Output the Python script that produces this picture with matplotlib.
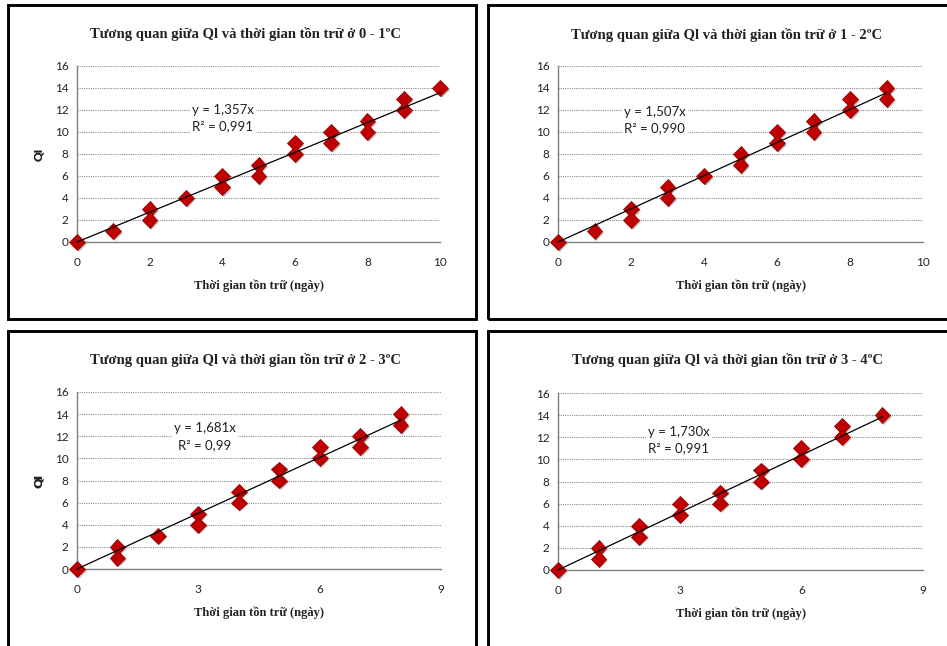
import matplotlib
matplotlib.use("Agg")
import matplotlib.pyplot as plt
import matplotlib.patheffects as pe
from matplotlib.patches import Rectangle

W, H = 947, 646
DPI = 100

# ---------------- data ----------------
titles = [
    "Tương quan giữa Ql và thời gian tồn trữ ở 0 - 1ºC",
    "Tương quan giữa Ql và thời gian tồn trữ ở 1 - 2ºC",
    "Tương quan giữa Ql và thời gian tồn trữ ở 2 - 3ºC",
    "Tương quan giữa Ql và thời gian tồn trữ ở 3 - 4ºC",
]
x_label = "Thời gian tồn trữ (ngày)"
y_label = "QI"

x1 = [0, 1, 2, 2, 3, 4, 4, 5, 5, 6, 6, 7, 7, 8, 8, 9, 9, 10]
y1 = [0, 1, 3, 2, 4, 6, 5, 7, 6, 9, 8, 10, 9, 11, 10, 13, 12, 14]

x2 = [0, 1, 2, 2, 3, 3, 4, 5, 5, 6, 6, 7, 7, 8, 8, 9, 9]
y2 = [0, 1, 3, 2, 5, 4, 6, 8, 7, 10, 9, 11, 10, 13, 12, 14, 13]

x3 = [0, 1, 1, 2, 3, 3, 4, 4, 5, 5, 6, 6, 7, 7, 8, 8]
y3 = [0, 2, 1, 3, 5, 4, 7, 6, 9, 8, 11, 10, 12, 11, 14, 13]

x4 = [0, 1, 1, 2, 2, 3, 3, 4, 4, 5, 5, 6, 6, 7, 7, 8]
y4 = [0, 2, 1, 4, 3, 6, 5, 7, 6, 9, 8, 11, 10, 13, 12, 14]

slopes = [1.357, 1.507, 1.681, 1.730]
eq_labels = ["y = 1,357x\nR² = 0,991", "y = 1,507x\nR² = 0,990",
             "y = 1,681x\nR² = 0,99", "y = 1,730x\nR² = 0,991"]
x_ticks = [[0, 2, 4, 6, 8, 10], [0, 2, 4, 6, 8, 10], [0, 3, 6, 9], [0, 3, 6, 9]]
x_max = [10, 10, 9, 9]
y_ticks = [0, 2, 4, 6, 8, 10, 12, 14, 16]

xs = [x1, x2, x3, x4]
ys = [y1, y2, y3, y4]

# ---------------- layout (pixels) ----------------
axes_px = [(77, 440, 66, 242), (558, 923, 66, 242),
           (77, 441, 392, 569), (558, 923, 393, 570)]
frames_px = [(8, 476, 5, 319), (488, 952, 5, 319),
             (8, 476, 331, 652), (488, 952, 331, 652)]
title_px = [(245, 34), (727, 35), (245, 360), (727, 360)]
eq_px = [(192, 118, 'left'), (624, 120, 'left'), (205, 437, 'center'), (648, 440, 'left')]

fig = plt.figure(figsize=(W / DPI, H / DPI), dpi=DPI)
fig.patch.set_facecolor("white")

def fx(x):
    return x / W

def fy(y):
    return 1 - y / H

sans = ["Lato", "DejaVu Sans"]
serif = ["Liberation Serif", "DejaVu Serif"]

for (fl, fr, ft, fb) in frames_px:
    fig.patches.append(Rectangle((fx(fl), fy(fb)), fx(fr - fl), (fb - ft) / H,
                                 transform=fig.transFigure, fill=False,
                                 edgecolor="black", linewidth=2.1, zorder=0))

for i in range(4):
    l, r, t, b = axes_px[i]
    ax = fig.add_axes([fx(l), fy(b), fx(r - l), (b - t) / H])
    ax.set_xlim(0, x_max[i])
    ax.set_ylim(0, 16)
    ax.set_xticks(x_ticks[i])
    ax.set_yticks(y_ticks)
    ax.tick_params(length=0, labelsize=8.5, colors="#222222", pad=6)
    for lab in ax.get_xticklabels() + ax.get_yticklabels():
        lab.set_fontfamily(sans)
    ax.tick_params(axis="x", pad=11)
    ax.grid(axis="y", linestyle=(0, (1, 1)), color="#8c8c8c", linewidth=0.8)
    ax.set_axisbelow(True)
    for s in ["top", "right"]:
        ax.spines[s].set_visible(False)
    for s in ["left", "bottom"]:
        ax.spines[s].set_color("#7f7f7f")
        ax.spines[s].set_linewidth(1.0)

    xm = max(xs[i])
    ax.plot([0, xm], [0, slopes[i] * xm], color="black", linewidth=0.9, zorder=4,
            clip_on=False)
    ax.plot(xs[i], ys[i], linestyle="none", marker="D", markersize=8,
            markerfacecolor="#C00000", markeredgecolor="#9a0000",
            markeredgewidth=0.6, zorder=3, clip_on=False,
            path_effects=[pe.SimplePatchShadow(offset=(1.2, -1.2), shadow_rgbFace="#999999", alpha=0.6),
                          pe.Normal()])

    ex, ey, ha = eq_px[i]
    fig.text(fx(ex), fy(ey), eq_labels[i], ha=ha, va="center", fontsize=9.5,
             family=sans, color="#222222", linespacing=1.5, multialignment=ha,
             bbox=dict(facecolor="white", edgecolor="none", pad=1.5))

    tx, ty = title_px[i]
    fig.text(fx(tx), fy(ty), titles[i], ha="center", va="center", fontsize=10.5,
             fontweight="bold", family=serif, color="#222222")

    fig.text(fx((l + r) / 2), fy(b + 44), x_label, ha="center", va="center",
             fontsize=9, fontweight="bold", family=serif, color="#222222")
    fig.text(fx(38), fy((t + b) / 2), y_label, ha="center", va="center",
             rotation=90, fontsize=8.5, fontweight="bold", family=sans, color="#222222")

fig.savefig("out.png", dpi=DPI, facecolor="white")
